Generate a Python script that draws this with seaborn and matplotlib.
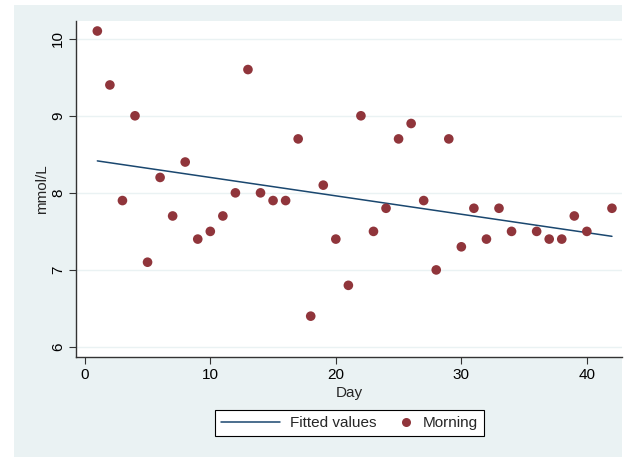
import numpy as np
import pandas as pd
import matplotlib
matplotlib.use("Agg")
import matplotlib.pyplot as plt
from matplotlib.patches import Rectangle
from matplotlib.lines import Line2D
from matplotlib.legend_handler import HandlerLine2D
import seaborn as sns

# data
days = [1, 2, 3, 4, 5, 6, 7, 8, 9, 10, 11, 12, 13, 14, 15, 16, 17, 18, 19, 20,
        21, 22, 23, 24, 25, 26, 27, 28, 29, 30, 31, 32, 33, 34, 36, 37, 38, 39, 40, 42]
morning = [10.1, 9.4, 7.9, 9.0, 7.1, 8.2, 7.7, 8.4, 7.4, 7.5, 7.7, 8.0, 9.6, 8.0, 7.9, 7.9, 8.7, 6.4, 8.1, 7.4,
           6.8, 9.0, 7.5, 7.8, 8.7, 8.9, 7.9, 7.0, 8.7, 7.3, 7.8, 7.4, 7.8, 7.5, 7.5, 7.4, 7.4, 7.7, 7.5, 7.8]
xticks = [0, 10, 20, 30, 40]
yticks = [6, 7, 8, 9, 10]

df = pd.DataFrame({"Day": days, "Morning": morning})

sns.set_theme(style="white")
plt.rcParams['font.family'] = ['Liberation Sans', 'DejaVu Sans']

FS = 11
W, H = 625, 458
fig = plt.figure(figsize=(W / 100, H / 100), dpi=100, facecolor="white")
bg = "#EAF2F3"
fig.patches.append(Rectangle((14 / W, 1 - 457 / H), (622 - 14) / W, (457 - 5) / H,
                             transform=fig.transFigure, facecolor=bg, edgecolor="none", zorder=-5))

ax = fig.add_axes([76 / W, 1 - 357 / H, (622 - 76) / W, (357 - 21) / H])
ax.set_zorder(1)
ax.set_facecolor("white")

line_c = "#1A476F"
pt_c = "#90353B"

sns.regplot(data=df, x="Day", y="Morning", ax=ax, scatter=False, ci=None,
            line_kws=dict(color=line_c, lw=1.1), truncate=True)
sns.scatterplot(data=df, x="Day", y="Morning", ax=ax, color=pt_c, s=48,
                edgecolor="none", zorder=3, legend=False)

ax.set_xlim(-0.7, 42.8)
ax.set_ylim(5.87, 10.23)
ax.set_xticks(xticks)
ax.set_yticks(yticks)
ax.set_yticklabels([str(v) for v in yticks], rotation=90, va="center")
for y in yticks:
    ax.axhline(y, color=bg, lw=1.0, zorder=0)

for s in ["top", "right"]:
    ax.spines[s].set_visible(False)
for s in ["left", "bottom"]:
    ax.spines[s].set_color("#333333")
    ax.spines[s].set_linewidth(1.0)
ax.tick_params(axis="both", which="major", length=5, width=0.8, color="#333333",
               labelsize=FS, labelcolor="black", pad=3, direction="out",
               bottom=True, left=True)
ax.set_xlabel("Day", fontsize=FS, labelpad=3)
ax.set_ylabel("mmol/L", fontsize=FS, labelpad=1)


class RightMarkerHandler(HandlerLine2D):
    def get_xdata(self, legend, xdescent, ydescent, width, height, fontsize):
        right = width - xdescent - 5
        return np.array([right - 5, right + 5]), np.array([right])


handles = [Line2D([0], [0], color=line_c, lw=1.1),
           Line2D([0], [0], marker="o", color="none", markerfacecolor=pt_c,
                  markeredgecolor="none", markersize=6.5)]
leg = fig.legend(handles, ["Fitted values", "Morning"], loc="center",
                 bbox_to_anchor=(349.5 / W, 1 - 423 / H), ncol=2, frameon=True,
                 fancybox=False, edgecolor="black", fontsize=FS, framealpha=1,
                 handlelength=3.86, columnspacing=-1.5, handletextpad=0.65,
                 borderpad=0.4, borderaxespad=0,
                 handler_map={handles[1]: RightMarkerHandler()})
leg.get_frame().set_linewidth(0.8)

fig.savefig("out.png", dpi=100, facecolor="white")
